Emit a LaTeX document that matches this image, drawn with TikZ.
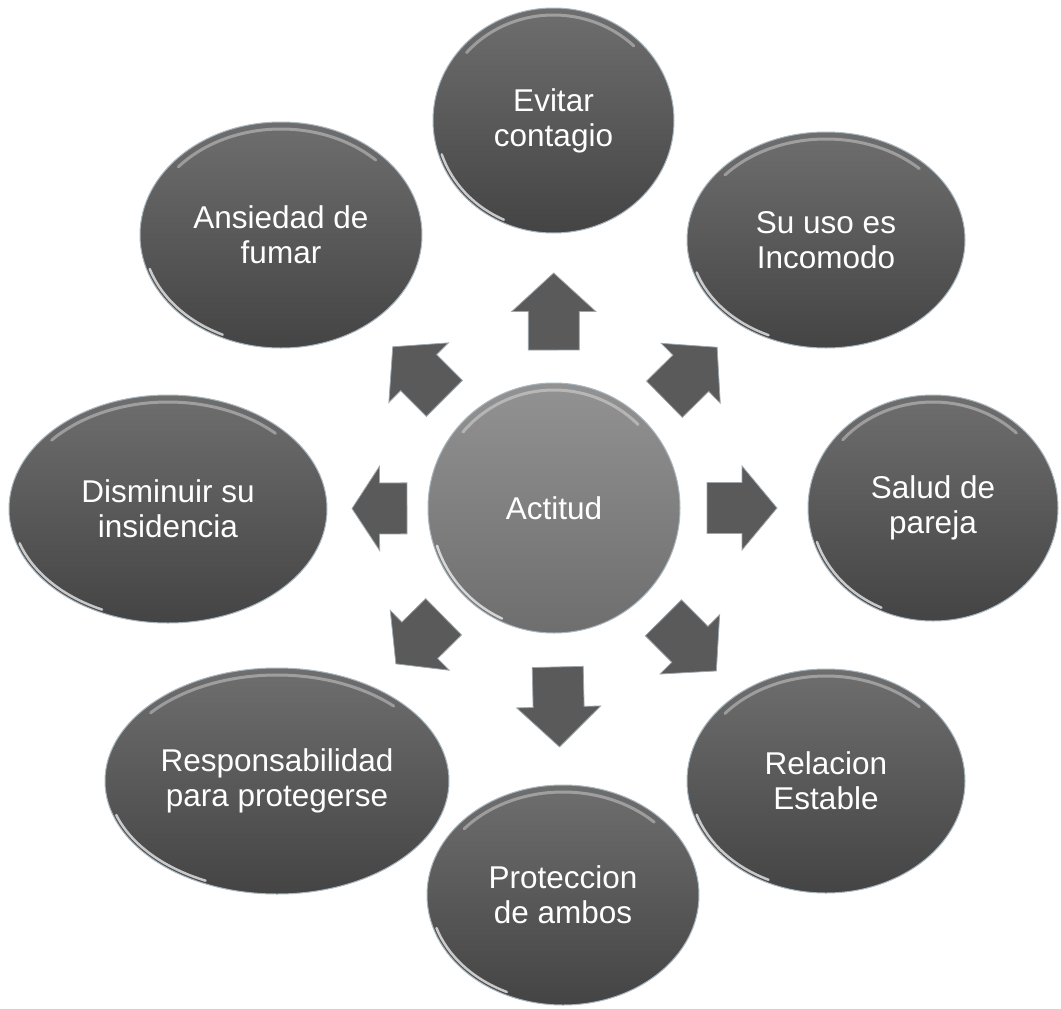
\documentclass[tikz,border=0pt]{standalone}
\usepackage{fontspec}
\setmainfont{Liberation Sans}
\usetikzlibrary{shapes.geometric,calc}
\definecolor{elltop}{HTML}{6E6E6E}
\definecolor{ellbot}{HTML}{444444}
\definecolor{cirtop}{HTML}{929292}
\definecolor{cirbot}{HTML}{6E6E6E}
\definecolor{rimcol}{HTML}{A9B6BF}
\definecolor{arrfill}{HTML}{5A5A5A}
\tikzset{
  bubble/.style={ellipse, inner sep=0pt, draw=rimcol, line width=1pt,
    top color=elltop, bottom color=ellbot, text=white, align=center,
    font=\fontsize{31.5}{35}\selectfont},
  hub/.style={bubble, top color=cirtop, bottom color=cirbot},
  blk/.style={fill=arrfill, draw=rimcol!70!gray, line width=0.8pt, line join=miter},
  glint/.style={white, line width=2.5pt, opacity=0.7, line cap=round},
  softglint/.style={white, line width=3pt, opacity=0.35, line cap=round},
}
\newcommand\glintfx[3]{%
  \draw[softglint] ($(#1.center)+(140:{#2pt-7pt} and {#3pt-7pt})$)
     arc[start angle=140, end angle=45, x radius={#2pt-7pt}, y radius={#3pt-7pt}];
  \draw[glint] ($(#1.center)+(198:{#2pt-3pt} and {#3pt-3pt})$)
     arc[start angle=198, end angle=245, x radius={#2pt-3pt}, y radius={#3pt-3pt}];
}
\newcommand\blkarrow[4]{%
  \coordinate (bs) at ($(#1.center)!#3!(#2.center)$);
  \coordinate (be) at ($(#1.center)!#4!(#2.center)$);
  \coordinate (bh) at ($(bs)!0.5!(be)$);
  \path[blk] ($(bs)!25.5pt!90:(be)$) -- ($(bh)!25.5pt!90:(be)$)
    -- ($(bh)!42pt!90:(be)$) -- (be) -- ($(bh)!42pt!-90:(be)$)
    -- ($(bh)!25.5pt!-90:(be)$) -- ($(bs)!25.5pt!-90:(be)$) -- cycle;
}
\begin{document}
\begin{tikzpicture}[x=1pt,y=1pt]
\useasboundingbox (0,0) rectangle (1061,-1009);
\fill[white] (0,0) rectangle (1061,-1009);

\node[hub, minimum width=252pt, minimum height=250pt] (act) at (554,-508) {Actitud};
\node[bubble, minimum width=241pt, minimum height=225pt] (evi) at (553.5,-120.5) {Evitar\\contagio};
\node[bubble, minimum width=278pt, minimum height=216pt] (suu) at (826,-240) {Su uso es\\Incomodo};
\node[bubble, minimum width=250pt, minimum height=226pt] (sal) at (933,-508) {Salud de\\pareja};
\node[bubble, minimum width=278pt, minimum height=224pt] (rel) at (826,-781) {Relacion\\Estable};
\node[bubble, minimum width=272pt, minimum height=220pt] (pro) at (563,-895) {Proteccion\\de ambos};
\node[bubble, minimum width=344pt, minimum height=226pt] (res) at (277,-781) {Responsabilidad\\para protegerse};
\node[bubble, minimum width=318pt, minimum height=228pt] (dis) at (168,-509) {Disminuir su\\insidencia};
\node[bubble, minimum width=282pt, minimum height=226pt] (ans) at (281,-235) {Ansiedad de\\fumar};

\glintfx{act}{126}{125}
\glintfx{evi}{120.5}{112.5}
\glintfx{suu}{139}{108}
\glintfx{sal}{125}{113}
\glintfx{rel}{139}{112}
\glintfx{pro}{136}{110}
\glintfx{res}{172}{113}
\glintfx{dis}{159}{114}
\glintfx{ans}{141}{113}

\blkarrow{act}{evi}{158pt}{235pt}
\blkarrow{act}{suu}{155pt}{229pt}
\blkarrow{act}{sal}{153pt}{223pt}
\blkarrow{act}{rel}{155pt}{230pt}
\blkarrow{act}{pro}{159pt}{239pt}
\blkarrow{act}{res}{155pt}{222pt}
\blkarrow{act}{dis}{147pt}{202pt}
\blkarrow{act}{ans}{155pt}{228pt}
\end{tikzpicture}
\end{document}
